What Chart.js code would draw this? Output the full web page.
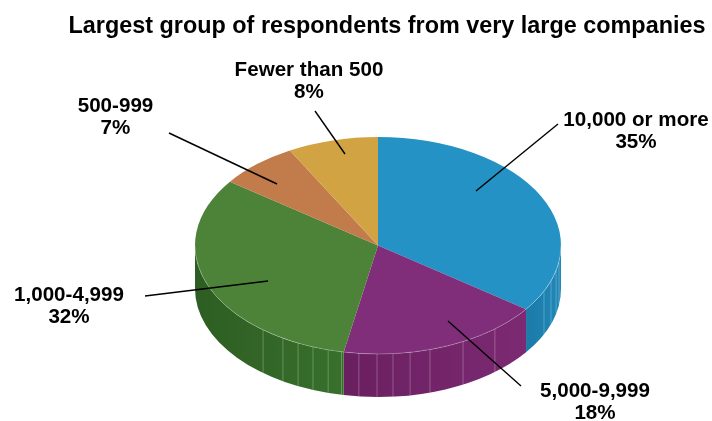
<!DOCTYPE html>
<html>
<head>
<meta charset="utf-8">
<script src="https://cdn.jsdelivr.net/npm/chart.js@4"></script>
<style>
  html, body { margin: 0; padding: 0; background: #fff; }
  canvas { display: block; }
</style>
</head>
<body>
<canvas id="chart" width="712" height="421"></canvas>
<script>
const chartTitle = 'Largest group of respondents from very large companies';
const categories = ['10,000 or more', '5,000-9,999', '1,000-4,999', '500-999', 'Fewer than 500'];
const values = [35, 18, 32, 7, 8];
const topColors = ['#2592c5', '#802e7a', '#4c8338', '#c27b4a', '#d2a342'];
const sideColorsLeft = ['#1b7aa8', '#6a1f60', '#2d5d22', '#a8653a', '#b58a33'];
const sideColorsRight = ['#2088b8', '#7c2a72', '#38702c', '#a8653a', '#b58a33'];

// where the label sits and where its leader line goes
const labelCenters = [[636, 120], [595, 391], [69, 295], [115.5, 106], [309, 70]];
const leaderLines = [
    [558, 124, 476, 191],
    [521, 386, 448, 321],
    [145, 296, 268, 281],
    [169, 133, 277, 184],
    [315, 111, 345, 154]
];

// thin lines on the side wall, degrees clockwise from the top
const facetAngles = [98.5, 103.3, 109, 114.9, 140.3, 152.3, 163.5, 169.9, 175.3, 180.3, 186, 191.5, 195.8, 200.8, 205.9, 211.3, 218.9];

const squash = 108.5 / 183;
const depth = 43;

function arcCenter(chart) {
    const arc = chart.getDatasetMeta(0).data[0];
    return { x: arc.x, y: arc.y, r: arc.outerRadius };
}

const pie3d = {
    id: 'pie3d',
    beforeDatasetsDraw(chart) {
        const ctx = chart.ctx;
        const c = arcCenter(chart);
        const ry = c.r * squash;
        // side wall, only the front half shows
        chart.getDatasetMeta(0).data.forEach(function (arc, i) {
            const a0 = Math.max(arc.startAngle, 0);
            const a1 = Math.min(arc.endAngle, Math.PI);
            if (a1 <= a0) return;
            const xa = c.x + c.r * Math.cos(a1);
            const xb = c.x + c.r * Math.cos(a0);
            const grad = ctx.createLinearGradient(xa, 0, xb, 0);
            grad.addColorStop(0, sideColorsLeft[i]);
            grad.addColorStop(1, sideColorsRight[i]);
            ctx.beginPath();
            ctx.ellipse(c.x, c.y, c.r, ry, 0, a0, a1);
            ctx.ellipse(c.x, c.y + depth, c.r, ry, 0, a1, a0, true);
            ctx.closePath();
            ctx.fillStyle = grad;
            ctx.fill();
        });
        ctx.save();
        ctx.strokeStyle = 'rgba(255,255,255,0.25)';
        ctx.lineWidth = 1;
        facetAngles.forEach(function (deg) {
            const t = (deg - 90) * Math.PI / 180;
            const x = c.x + c.r * Math.cos(t);
            const y = c.y + ry * Math.sin(t);
            ctx.beginPath();
            ctx.moveTo(x, y);
            ctx.lineTo(x, y + depth);
            ctx.stroke();
        });
        ctx.restore();
        // squash the flat pie into the top face
        ctx.save();
        ctx.translate(c.x, c.y);
        ctx.scale(1, squash);
        ctx.translate(-c.x, -c.y);
    },
    afterDatasetsDraw(chart) {
        const ctx = chart.ctx;
        ctx.restore();
        const c = arcCenter(chart);
        const ry = c.r * squash;
        ctx.save();
        // light rim on the front edge
        ctx.beginPath();
        ctx.ellipse(c.x, c.y, c.r, ry, 0, 0, Math.PI);
        ctx.strokeStyle = 'rgba(255,255,255,0.3)';
        ctx.lineWidth = 0.8;
        ctx.stroke();

        ctx.strokeStyle = '#000';
        ctx.lineWidth = 1.4;
        leaderLines.forEach(function (l) {
            ctx.beginPath();
            ctx.moveTo(l[0], l[1]);
            ctx.lineTo(l[2], l[3]);
            ctx.stroke();
        });

        ctx.fillStyle = '#000';
        ctx.textAlign = 'center';
        ctx.textBaseline = 'middle';
        ctx.font = 'bold 23.4px "Liberation Sans"';
        ctx.fillText(chartTitle, 387, 27);
        ctx.font = 'bold 20.6px "Liberation Sans"';
        categories.forEach(function (name, i) {
            const p = labelCenters[i];
            ctx.fillText(name, p[0], p[1]);
            ctx.fillText(values[i] + '%', p[0], p[1] + 22);
        });
        ctx.restore();
    }
};

new Chart(document.getElementById('chart'), {
    type: 'pie',
    data: {
        labels: categories,
        datasets: [{
            data: values,
            backgroundColor: topColors,
            borderWidth: 0
        }]
    },
    options: {
        responsive: false,
        animation: false,
        radius: 183,
        layout: { padding: { left: 44, top: 70 } },
        plugins: {
            legend: { display: false },
            title: { display: false },
            tooltip: { enabled: false }
        }
    },
    plugins: [pie3d]
});
</script>
</body>
</html>
